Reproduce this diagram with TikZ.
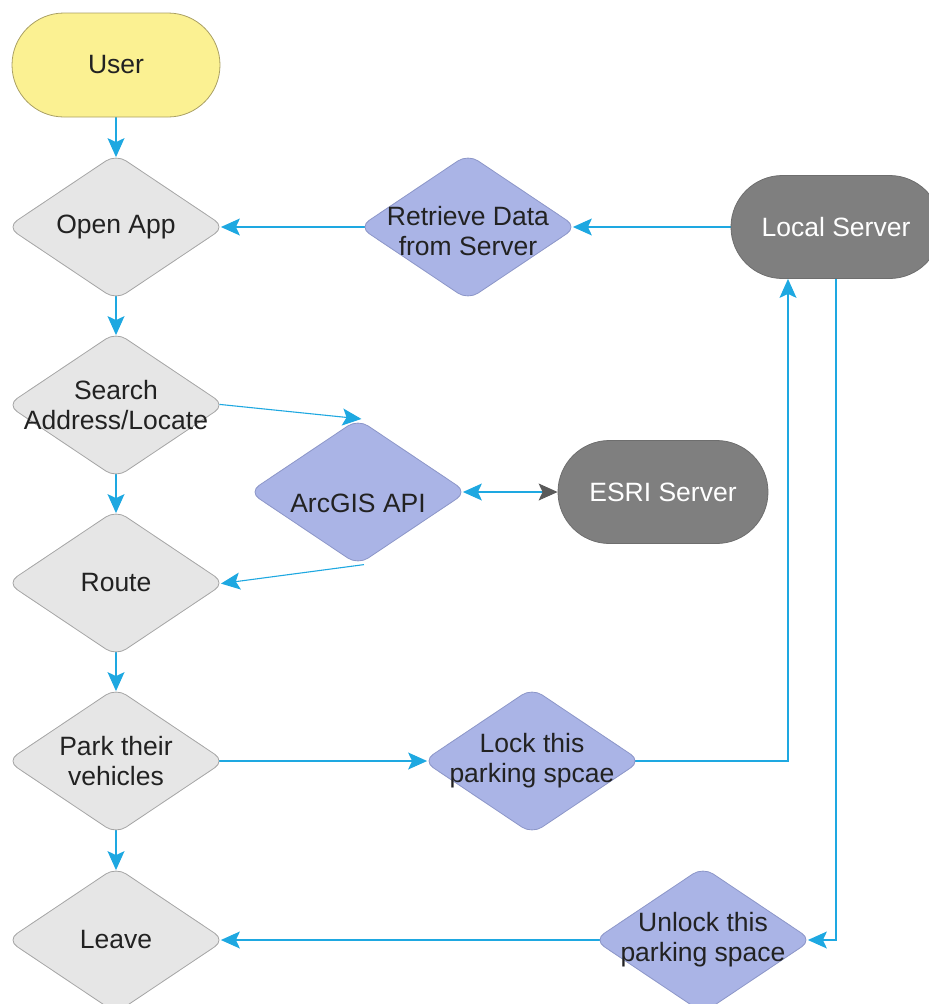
\documentclass[tikz,border=0pt]{standalone}
\usepackage{fontspec}
\setmainfont{Liberation Sans}
\usetikzlibrary{shapes.geometric,shapes.misc,arrows.meta,backgrounds}
\definecolor{lnblue}{RGB}{30,168,225}
\definecolor{txt}{RGB}{34,34,34}
\definecolor{gfill}{RGB}{230,230,230}
\definecolor{gbd}{RGB}{165,165,165}
\definecolor{pfill}{RGB}{170,180,230}
\definecolor{pbd}{RGB}{140,150,200}
\definecolor{yfill}{RGB}{251,241,146}
\definecolor{ybd}{RGB}{170,160,100}
\definecolor{dfill}{RGB}{127,127,127}
\definecolor{dbd}{RGB}{110,110,110}
\definecolor{tipgray}{RGB}{90,90,90}
\begin{document}
\begin{tikzpicture}[x=1pt,y=-1pt,
  every node/.style={font=\fontsize{26.5}{30}\selectfont, text=txt, align=center},
  gdia/.style={diamond, draw=gbd, fill=gfill, minimum width=218pt, minimum height=146pt, inner sep=0pt, rounded corners=12pt, line width=0.8pt},
  pdia/.style={gdia, draw=pbd, fill=pfill},
  ystad/.style={rounded rectangle, draw=ybd, fill=yfill, minimum width=208pt, minimum height=104pt, inner sep=0pt, line width=0.8pt},
  dstad/.style={rounded rectangle, draw=dbd, fill=dfill, minimum width=210pt, minimum height=103pt, inner sep=0pt, line width=0.8pt, text=white},
  conn/.style={color=lnblue, line width=1.1pt, -{Stealth[length=19pt,width=17pt,inset=4pt,fill=lnblue]}, shorten <=-6pt},
  tipv/.style={shorten >=-3.5pt},
  tiph/.style={shorten >=-4.5pt}
]
\useasboundingbox (0,0) rectangle (929,1004);

\node[ystad] (user) at (116,65) {User};
\node[gdia, label={center:Open App}] (open) at (116,227) {};
\node[gdia, label={center:{Search\\Address/Locate}}] (search) at (116,405) {};
\node[gdia, label={center:Route}] (route) at (116,583) {};
\node[gdia, label={center:{Park their\\vehicles}}] (park) at (116,761) {};
\node[gdia, label={center:Leave}] (leave) at (116,940) {};

\node[pdia, label={[yshift=-4pt]center:{Retrieve Data\\from Server}}] (retr) at (468,227) {};
\node[dstad] (local) at (836,227) {Local Server};
\node[pdia, label={[yshift=-11pt]center:ArcGIS API}] (arc) at (358,492) {};
\node[dstad] (esri) at (663,492) {ESRI Server};
\node[pdia, label={center:{Lock this\\parking spcae}}] (lock) at (532,761) {};
\node[pdia, label={center:{Unlock this\\parking space}}] (unlock) at (703,940) {};

\begin{scope}[on background layer]
\draw[conn,tipv] (user.south) -- (open.north);
\draw[conn,tipv] (open.south) -- (search.north);
\draw[conn,tipv] (search.south) -- (route.north);
\draw[conn,tipv] (route.south) -- (park.north);
\draw[conn,tipv] (park.south) -- (leave.north);
\draw[conn,tiph] (retr.west) -- (open.east);
\draw[conn,tiph] (local.west) -- (retr.east);
\draw[conn,tipv] (search.east) -- (arc.north);
\draw[conn,tiph] (arc.south) -- (route.east);
\draw[color=lnblue, line width=1.1pt, {Stealth[length=19pt,width=17pt,inset=4pt,color=lnblue,fill=lnblue]}-{Stealth[length=19pt,width=17pt,inset=4pt,color=tipgray,fill=tipgray]}, shorten <=-4.5pt] (arc.east) -- (esri.west);
\draw[conn,tiph] (park.east) -- (lock.west);
\draw[conn] (lock.east) -| ([xshift=-48pt]local.south);
\draw[conn,tiph] (local.south) |- (unlock.east);
\draw[conn,tiph] (unlock.west) -- (leave.east);
\end{scope}
\end{tikzpicture}
\end{document}
